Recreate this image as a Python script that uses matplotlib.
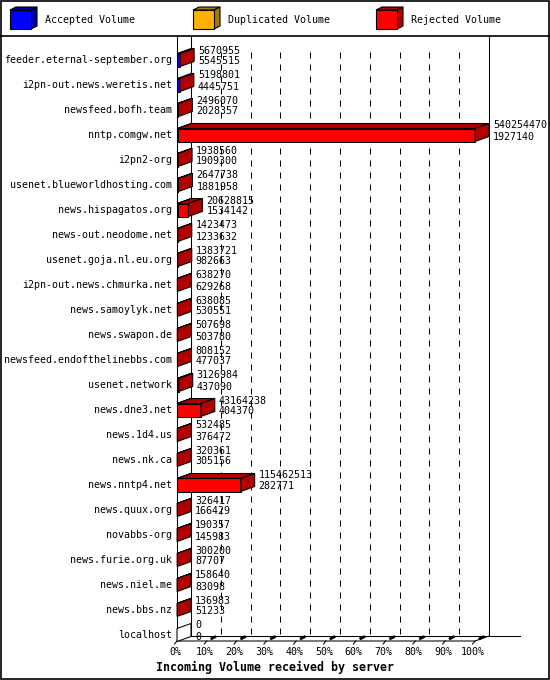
import matplotlib
matplotlib.use("Agg")
import matplotlib.pyplot as plt
from matplotlib.patches import Polygon, Rectangle
import numpy as np

# data
servers = ["feeder.eternal-september.org", "i2pn-out.news.weretis.net", "newsfeed.bofh.team",
           "nntp.comgw.net", "i2pn2-org", "usenet.blueworldhosting.com", "news.hispagatos.org",
           "news-out.neodome.net", "usenet.goja.nl.eu.org", "i2pn-out.news.chmurka.net",
           "news.samoylyk.net", "news.swapon.de", "newsfeed.endofthelinebbs.com", "usenet.network",
           "news.dne3.net", "news.1d4.us", "news.nk.ca", "news.nntp4.net", "news.quux.org",
           "novabbs-org", "news.furie.org.uk", "news.niel.me", "news.bbs.nz", "localhost"]
total = [5670955, 5198801, 2496070, 540254470, 1938560, 2647738, 20628815, 1423473, 1383721,
         638270, 638085, 507698, 808152, 3126984, 43164238, 532485, 320361, 115462513, 326417,
         190357, 300200, 158640, 136983, 0]
accepted = [5545515, 4445751, 2028357, 1927140, 1909300, 1881958, 1534142, 1233632, 982663,
            629268, 530551, 503780, 477037, 437090, 404370, 376472, 305156, 282771, 166429,
            145983, 87707, 83098, 51233, 0]
duplicated = [0] * 24
rejected = [125440, 753050, 467713, 538327330, 29260, 765780, 19094673, 189841, 401058,
            9002, 107534, 3918, 331115, 2689894, 42759868, 156013, 15205, 115179742, 159988,
            44374, 212493, 75542, 85750, 0]
series_names = ["Accepted Volume", "Duplicated Volume", "Rejected Volume"]
pct_ticks = list(range(0, 101, 10))

front_cols = ["#0000FF", "#FFB000", "#FF0000"]
dark_cols = ["#0000A8", "#A87800", "#B00000"]

W, H = 550, 680
plt.rcParams['font.family'] = ['DejaVu Sans Mono']
fig = plt.figure(figsize=(W / 100, H / 100), dpi=100)

# overlay in pixel units for frame, legend and title
frame = fig.add_axes([0, 0, 1, 1])
frame.set_xlim(0, W)
frame.set_ylim(H, 0)
frame.axis("off")
frame.add_patch(Rectangle((0.5, 0.5), W - 1.5, H - 1.5, fill=False, ec="black", lw=1.2))
frame.plot([0, W], [35.5, 35.5], color="black", lw=1.2)

leg_x = [10, 193, 376]
for lx, name, fc, dc in zip(leg_x, series_names, front_cols, dark_cols):
    frame.add_patch(Polygon([(lx, 10), (lx + 6, 7), (lx + 27, 7), (lx + 21, 10)],
                            fc=dc, ec="black", lw=0.8))
    frame.add_patch(Polygon([(lx + 21, 10), (lx + 27, 7), (lx + 27, 26), (lx + 21, 29)],
                            fc=dc, ec="black", lw=0.8))
    frame.add_patch(Rectangle((lx, 10), 21, 19, fc=fc, ec="black", lw=0.8))
    frame.text(lx + 35, 20, name, fontsize=7.2, va="center", ha="left")

frame.text(275, 667, "Incoming Volume received by server", fontsize=8.4,
           fontweight="bold", ha="center", va="center")

# chart axes: x in percent of largest total, y in row index
PX_PER_PCT = 2.98
ROW = 25.0
Y_TOP = (36 - 60) / ROW
Y_FLOOR = (641 - 60) / ROW
ax = fig.add_axes([177 / W, (H - 641) / H, 100 * PX_PER_PCT / W, (641 - 36) / H])
ax.set_xlim(0, 100)
ax.set_ylim(Y_FLOOR, Y_TOP)
ax.axis("off")

DX = 14 / PX_PER_PCT
DY = -5 / ROW
HALF = 6.5 / ROW
LW = 0.75

# back wall grid
ax.vlines(np.array(pct_ticks[1:-1]) + DX, -0.32, Y_FLOOR + DY, colors="black",
          linestyles=(0, (6, 6)), lw=0.72, zorder=1)
# walls and floor
kw = dict(color="black", lw=LW, clip_on=False, zorder=2)
ax.plot([0, 0], [Y_TOP, Y_FLOOR], **kw)
ax.plot([DX, DX], [Y_TOP, Y_FLOOR + DY], **kw)
ax.plot([100 + DX, 100 + DX], [Y_TOP, Y_FLOOR + DY], **kw)
ax.plot([0, 100, 100 + DX], [Y_FLOOR, Y_FLOOR, Y_FLOOR + DY], **kw)
ax.plot([DX, 115.1], [Y_FLOOR + DY, Y_FLOOR + DY], **kw)

for t in pct_ticks:
    ax.plot([t, t - 2.5 / PX_PER_PCT], [Y_FLOOR, Y_FLOOR + 3 / ROW], **kw)
    if t > 0:
        ax.plot([t + 5 / PX_PER_PCT, t + 8 / PX_PER_PCT],
                [Y_FLOOR - 2.5 / ROW, Y_FLOOR - 4 / ROW],
                color="black", lw=2, clip_on=False, zorder=2)
    ax.text(t - 2 / PX_PER_PCT, Y_FLOOR + 11 / ROW, f"{t}%", fontsize=7.2,
            ha="center", va="center", clip_on=False)

vmax = max(total)
for i, name in enumerate(servers):
    segs = [accepted[i], duplicated[i], rejected[i]]
    left = 0.0
    side_col = "white"
    y0, y1 = i - HALF, i + HALF
    for v, fc, dc in zip(segs, front_cols, dark_cols):
        if v <= 0:
            continue
        w = v / vmax * 100
        ax.add_patch(Polygon([(left, y0), (left + w, y0), (left + w + DX, y0 + DY),
                              (left + DX, y0 + DY)], fc=dc, ec="black", lw=LW,
                             clip_on=False, zorder=3))
        ax.add_patch(Rectangle((left, y0), w, y1 - y0, fc=fc, ec="black", lw=LW,
                               clip_on=False, zorder=3))
        left += w
        side_col = dc
    ax.add_patch(Polygon([(left, y0), (left + DX, y0 + DY), (left + DX, y1 + DY),
                          (left, y1)], fc=side_col, ec="black", lw=LW,
                         clip_on=False, zorder=3))
    tx = left + DX + 4 / PX_PER_PCT
    ax.text(tx, i - 9.5 / ROW, f"{total[i]}", fontsize=7.2, ha="left", va="center",
            clip_on=False, zorder=4)
    ax.text(tx, i + 1.5 / ROW, f"{accepted[i]}", fontsize=7.2, ha="left", va="center",
            clip_on=False, zorder=4)
    ax.text(-5 / PX_PER_PCT, i, name, fontsize=7.2, ha="right", va="center",
            clip_on=False)

fig.savefig("out.png", dpi=100)
